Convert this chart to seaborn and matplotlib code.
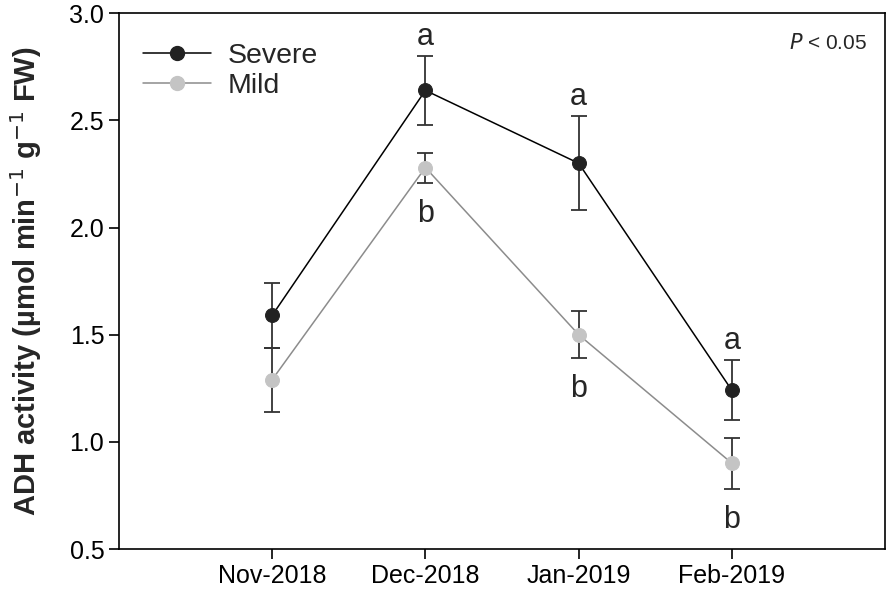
import matplotlib
matplotlib.use("Agg")
import matplotlib.pyplot as plt
import seaborn as sns
import pandas as pd
from matplotlib.lines import Line2D

months = ["Nov-2018", "Dec-2018", "Jan-2019", "Feb-2019"]
severe_mean = [1.59, 2.64, 2.30, 1.24]
severe_err = [0.15, 0.16, 0.22, 0.14]
mild_mean = [1.29, 2.28, 1.50, 0.90]
mild_err = [0.15, 0.07, 0.11, 0.12]
severe_letters = ["", "a", "a", "a"]
mild_letters = ["", "b", "b", "b"]

sns.set_theme(style="ticks")
plt.rcParams["font.family"] = ["Liberation Sans", "DejaVu Sans"]

df = pd.DataFrame({
    "month": months * 2,
    "activity": severe_mean + mild_mean,
    "group": ["Severe"] * 4 + ["Mild"] * 4,
})

fig, ax = plt.subplots(figsize=(8.87, 6.02), dpi=100)
fig.subplots_adjust(left=0.134, right=0.998, top=0.978, bottom=0.088)

# error bars first so the markers sit on top
ax.errorbar(months, severe_mean, yerr=severe_err, fmt="none", ecolor="#333333",
            elinewidth=1.3, capsize=6, capthick=1.3, zorder=2)
ax.errorbar(months, mild_mean, yerr=mild_err, fmt="none", ecolor="#333333",
            elinewidth=1.3, capsize=6, capthick=1.3, zorder=2)

sns.lineplot(data=df, x="month", y="activity", hue="group",
             palette={"Severe": "black", "Mild": "#8c8c8c"},
             marker="o", markersize=10, linewidth=1.1, ax=ax, zorder=3,
             legend=False)
# marker colours per series
for line, fc in zip(ax.lines[-2:], ["#222222", "#c4c4c4"]):
    line.set_markerfacecolor(fc)
    line.set_markeredgecolor(fc)

# significance letters
for i, m in enumerate(months):
    if severe_letters[i]:
        ax.annotate(severe_letters[i], (m, severe_mean[i] + severe_err[i]),
                    xytext=(0, 3), textcoords="offset points",
                    ha="center", va="bottom", fontsize=22)
    if mild_letters[i]:
        ax.annotate(mild_letters[i], (m, mild_mean[i] - mild_err[i]),
                    xytext=(0, -11.5), textcoords="offset points",
                    ha="center", va="top", fontsize=22)

handles = [
    Line2D([], [], color="black", lw=1.1, marker="o", markersize=10,
           markerfacecolor="#222222", markeredgecolor="#222222"),
    Line2D([], [], color="#8c8c8c", lw=1.1, marker="o", markersize=10,
           markerfacecolor="#c4c4c4", markeredgecolor="#c4c4c4"),
]
ax.legend(handles, ["Severe", "Mild"], loc="upper left", frameon=False,
          fontsize=20.5, handlelength=2.4, handletextpad=0.6, labelspacing=0.15,
          borderaxespad=0.3, bbox_to_anchor=(0.005, 0.982))

ax.text(0.977, 0.944, "$\\it{P}$ < 0.05", transform=ax.transAxes,
        ha="right", va="center", fontsize=15)

ax.set_xlim(-1, 4)
ax.set_ylim(0.5, 3.0)
ax.set_yticks([0.5, 1.0, 1.5, 2.0, 2.5, 3.0])
ax.set_yticklabels(["0.5", "1.0", "1.5", "2.0", "2.5", "3.0"])
ax.set_xlabel("")
ax.set_ylabel("ADH activity (µmol min$^{-1}$ g$^{-1}$ FW)", fontsize=21,
              fontweight="bold")
ax.yaxis.set_label_coords(-0.098, 0.5)
ax.tick_params(axis="both", labelsize=18, length=7, width=1.2, direction="out",
               colors="black")
for s in ax.spines.values():
    s.set_linewidth(1.2)
    s.set_color("black")

fig.savefig("out.png", dpi=100)
